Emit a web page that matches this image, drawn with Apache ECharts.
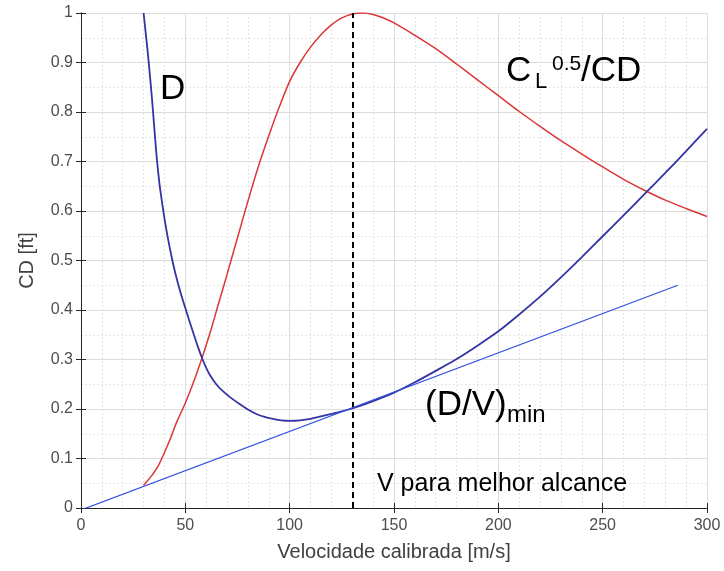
<!DOCTYPE html>
<html>
<head>
<meta charset="utf-8">
<script src="https://cdn.jsdelivr.net/npm/echarts@6/dist/echarts.min.js"></script>
<style>
html,body{margin:0;padding:0;background:#fff;}
#c{width:724px;height:571px;}
</style>
</head>
<body>
<div id="c"></div>
<script>
// Drag curve D (blue)
const dV = [30, 31, 32, 33, 34, 35, 36, 37, 38, 40, 42, 44, 46, 48, 50, 53, 56, 58, 60, 62, 65, 68, 72, 76, 80, 84, 88, 92, 96, 100, 105, 110, 115, 120, 125, 130, 140, 150, 160, 170, 180, 190, 200, 210, 220, 230, 240, 250, 260, 270, 280, 290, 300];
const dY = [1.0, 0.96, 0.92, 0.875, 0.828, 0.775, 0.722, 0.678, 0.642, 0.585, 0.537, 0.496, 0.461, 0.431, 0.404, 0.364, 0.326, 0.303, 0.283, 0.267, 0.249, 0.236, 0.222, 0.21, 0.199, 0.19, 0.184, 0.18, 0.177, 0.176, 0.177, 0.18, 0.185, 0.19, 0.195, 0.201, 0.216, 0.233, 0.254, 0.277, 0.301, 0.328, 0.357, 0.391, 0.427, 0.466, 0.507, 0.549, 0.591, 0.634, 0.677, 0.721, 0.766];
// CL^0.5/CD curve (red, normalised)
const rV = [30, 34, 37, 40, 43, 46, 50, 54, 58, 62, 66, 70, 75, 80, 85, 90, 95, 100, 105, 110, 115, 120, 125, 130, 135, 140, 145, 150, 160, 170, 180, 190, 200, 210, 220, 230, 240, 250, 260, 270, 280, 290, 300];
const rY = [0.046, 0.066, 0.085, 0.112, 0.142, 0.175, 0.212, 0.255, 0.303, 0.356, 0.414, 0.472, 0.546, 0.62, 0.69, 0.752, 0.81, 0.862, 0.9, 0.931, 0.956, 0.976, 0.99, 0.998, 1.0, 0.997, 0.99, 0.98, 0.955, 0.928, 0.897, 0.865, 0.833, 0.801, 0.771, 0.742, 0.715, 0.689, 0.664, 0.642, 0.622, 0.605, 0.589];
// Tangent line from origin
const tV = [0, 286];
const tY = [-0.004, 0.45];
// Best range speed
const vBest = 130;
const xTicks = {min: 0, max: 300, interval: 50};
const yTicks = {min: 0, max: 1, interval: 0.1};

const pairs = (xs, ys) => xs.map((x, i) => [x, ys[i]]);

const chart = echarts.init(document.getElementById('c'));
const font = '"Liberation Sans", Arial, Helvetica, sans-serif';
const gridLine = {show: true, lineStyle: {color: '#dcdcdc', width: 1}};
const minorLine = {show: true, lineStyle: {color: '#e4e4e4', width: 1, type: [2, 2]}};
const axLine = {show: true, lineStyle: {color: '#262626', width: 1}};
const tick = {show: true, inside: true, length: 5, lineStyle: {color: '#262626'}};

function txt(x, y, text, size) {
  return {
    type: 'text', x: x, y: y, silent: true, z: 100,
    style: {text: text, fill: '#000', font: size + 'px ' + font, align: 'left', verticalAlign: 'top'}
  };
}

chart.setOption({
  animation: false,
  backgroundColor: '#fff',
  grid: {left: 81, right: 17, top: 13, bottom: 63},
  xAxis: [{
    type: 'value', min: xTicks.min, max: xTicks.max, interval: xTicks.interval,
    name: 'Velocidade calibrada [m/s]', nameLocation: 'middle', nameGap: 34,
    nameTextStyle: {fontFamily: font, fontSize: 20, color: '#404040'},
    axisLine: axLine, axisTick: tick,
    axisLabel: {fontFamily: font, fontSize: 16, color: '#4d4d4d', margin: 10},
    splitLine: gridLine,
    minorTick: {show: false, splitNumber: 5},
    minorSplitLine: minorLine
  }, {
    type: 'value', position: 'top', min: xTicks.min, max: xTicks.max, interval: xTicks.interval,
    axisLine: axLine, axisTick: tick, axisLabel: {show: false}, splitLine: {show: false}
  }],
  yAxis: [{
    type: 'value', min: yTicks.min, max: yTicks.max, interval: yTicks.interval,
    name: 'CD [ft]', nameLocation: 'middle', nameGap: 44,
    nameTextStyle: {fontFamily: font, fontSize: 20, color: '#404040'},
    axisLine: axLine, axisTick: tick,
    axisLabel: {fontFamily: font, fontSize: 16, color: '#4d4d4d', margin: 8},
    splitLine: gridLine,
    minorTick: {show: false, splitNumber: 2},
    minorSplitLine: minorLine
  }, {
    type: 'value', position: 'right', min: yTicks.min, max: yTicks.max, interval: yTicks.interval,
    axisLine: axLine, axisTick: tick, axisLabel: {show: false}, splitLine: {show: false}
  }],
  series: [{
    type: 'line', name: 'CL05CD', data: pairs(rV, rY), smooth: 0.3, showSymbol: false,
    lineStyle: {color: '#dd3535', width: 1.5}, z: 3
  }, {
    type: 'line', name: 'D', data: pairs(dV, dY), smooth: 0.3, showSymbol: false,
    lineStyle: {color: '#3434a4', width: 1.8}, z: 4,
    markLine: {
      silent: true, symbol: 'none', label: {show: false},
      lineStyle: {color: '#000', width: 2, type: [6, 4]},
      data: [[{coord: [vBest, yTicks.min]}, {coord: [vBest, yTicks.max]}]]
    }
  }, {
    type: 'line', name: 'tangent', data: pairs(tV, tY), showSymbol: false,
    lineStyle: {color: '#2f50e0', width: 1.2}, z: 5
  }],
  graphic: [
    txt(160, 72, 'D', 35),
    txt(506, 54, 'C', 35),
    txt(535, 71, 'L', 22),
    txt(552, 54, '0.5', 21),
    txt(581, 54, '/CD', 35),
    txt(425, 388, '(D/V)', 35),
    txt(507, 403, 'min', 24),
    txt(377, 472, 'V para melhor alcance', 25)
  ]
});
</script>
</body>
</html>
